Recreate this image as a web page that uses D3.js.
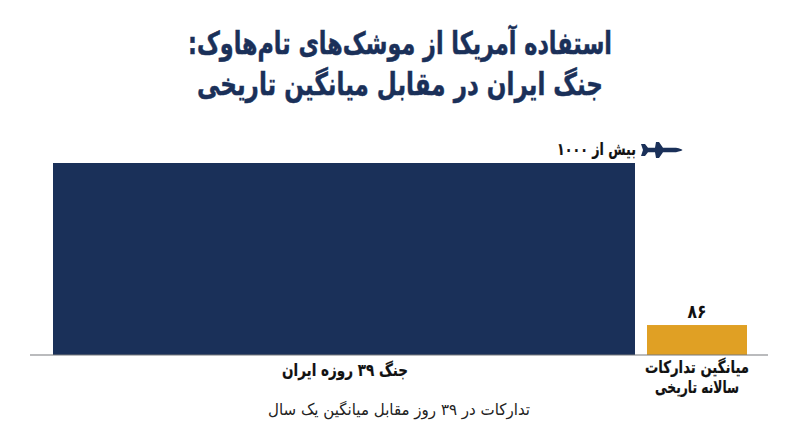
<!DOCTYPE html>
<html lang="fa">
<head>
<meta charset="utf-8">
<style>
  html, body { margin: 0; background: #fff; }
  text { font-family: "DejaVu Sans", sans-serif; direction: rtl; }
</style>
</head>
<body>
<svg id="chart"></svg>
<script src="https://cdn.jsdelivr.net/npm/d3@7"></script>
<script>
const width = 800;
const height = 447;

// data
const categories = ["war", "average"];
const values = [1000, 86];
const valueLabels = ["بیش از ۱۰۰۰", "۸۶"];
const categoryLabels = [["جنگ ۳۹ روزه ایران"], ["میانگین تدارکات", "سالانه تاریخی"]];
const titleLines = ["استفاده آمریکا از موشک‌های تام‌هاوک:", "جنگ ایران در مقابل میانگین تاریخی"];
const subtitle = "تدارکات در ۳۹ روز مقابل میانگین یک سال";

const navy = "#1a3059";
const gold = "#e0a024";

const svg = d3.select("#chart")
  .attr("width", width)
  .attr("height", height)
  .attr("viewBox", `0 0 ${width} ${height}`)
  .style("display", "block");

// the bars are not linear in the original, the power scale gets close to it
const y = d3.scalePow().exponent(0.757).domain([0, 1000]).range([355, 163]);

// bars have different widths
const xLeft = d3.scaleOrdinal().domain(categories).range([53, 647]);
const barWidth = d3.scaleOrdinal().domain(categories).range([582, 100]);
const barColor = d3.scaleOrdinal().domain(categories).range([navy, gold]);

// squeeze the wide DejaVu glyphs to the width they have in the original
function label(parent, str, x, baseline, size, weight, fill, fit, bold = 0) {
  return parent.append("text")
    .attr("x", x)
    .attr("y", baseline)
    .attr("text-anchor", "middle")
    .attr("font-size", size)
    .attr("font-weight", weight)
    .attr("fill", fill)
    .attr("stroke", fill)
    .attr("stroke-width", bold)
    .attr("textLength", fit)
    .attr("lengthAdjust", "spacingAndGlyphs")
    .text(str);
}

label(svg, titleLines[0], 400, 54, 31, 700, navy, 424, 0.5);
label(svg, titleLines[1], 400, 95, 31, 700, navy, 406, 0.5);

svg.append("g")
  .selectAll("rect")
  .data(categories)
  .join("rect")
  .attr("x", d => xLeft(d))
  .attr("width", d => barWidth(d))
  .attr("y", (d, i) => y(values[i]))
  .attr("height", (d, i) => y(0) - y(values[i]))
  .attr("fill", d => barColor(d));

// baseline
svg.append("line")
  .attr("x1", 30)
  .attr("x2", 768)
  .attr("y1", y(0))
  .attr("y2", y(0))
  .attr("stroke", "#77787c")
  .attr("stroke-width", 1.2);

// value labels
label(svg, valueLabels[0], 596.5, 155, 17, 700, "#111", 79, 0.2);
label(svg, valueLabels[1], 697, 318, 19, 700, "#111", 19);

// missile icon next to the capped value
svg.append("path")
  .attr("transform", "translate(641,150)")
  .attr("fill", navy)
  .attr("d", "M0,-6 L4,-6 L7,-2.2 L14,-2.2 L15,-8 L18,-8 L22,-2.2 L35,-2.2 Q41,-1 41.5,0 Q41,1 35,2.2 L22,2.2 L18,8 L15,8 L14,2.2 L7,2.2 L4,6 L0,6 L2,0 Z");

// category labels
label(svg, categoryLabels[0][0], 345, 376, 17, 700, "#111", 126, 0.2);
label(svg, categoryLabels[1][0], 697, 373, 17, 700, "#111", 104, 0.2);
label(svg, categoryLabels[1][1], 697, 393, 17, 700, "#111", 84, 0.2);

label(svg, subtitle, 399, 415, 16, 400, "#222", 262);
</script>
</body>
</html>
